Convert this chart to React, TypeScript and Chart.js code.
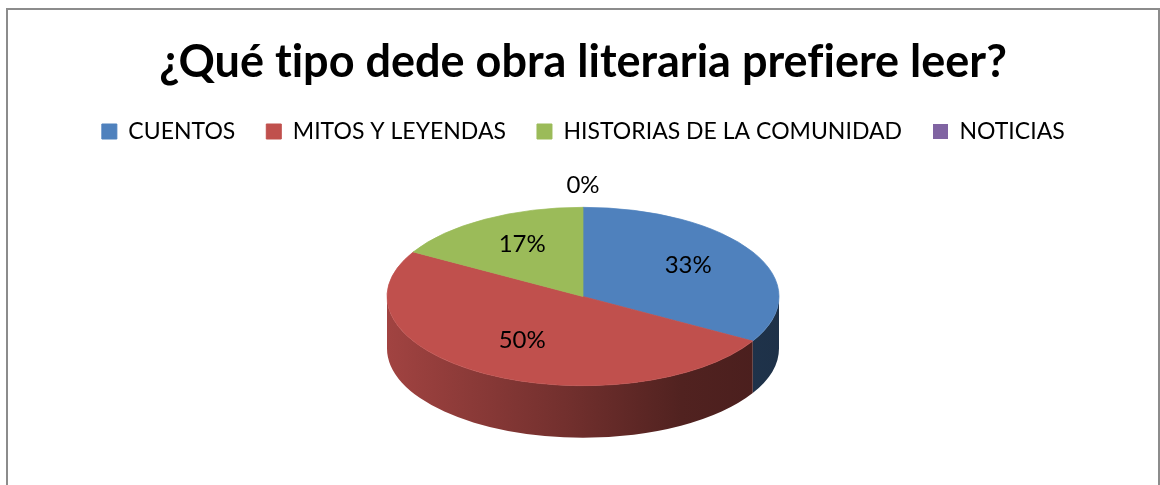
import React, { useEffect, useRef } from 'react';
import { Chart, registerables } from 'chart.js';

Chart.register(...registerables);

const TITLE = '¿Qué tipo dede obra literaria prefiere leer?';
const categories = ['CUENTOS', 'MITOS Y LEYENDAS', 'HISTORIAS DE LA COMUNIDAD', 'NOTICIAS'];
const values = [2, 3, 1, 0];
const colors = ['#4F81BD', '#C0504D', '#9BBB59', '#8064A2'];

const TILT = 0.455;
const DEPTH = 52;
const FONT = 'Lato, "Open Sans", sans-serif';

function shade(hex: string, f: number): string {
  const n = parseInt(hex.slice(1), 16);
  const r = Math.round(((n >> 16) & 255) * f);
  const g = Math.round(((n >> 8) & 255) * f);
  const b = Math.round((n & 255) * f);
  return `rgb(${r},${g},${b})`;
}

const noLigatures = {
  id: 'noLigatures',
  beforeDraw(chart: any) {
    try {
      (chart.ctx as any).letterSpacing = '0.01px';
    } catch (e) {}
  },
};

const pie3d = {
  id: 'pie3d',
  beforeDatasetsDraw(chart: any) {
    const arcs = chart.getDatasetMeta(0).data;
    if (!arcs.length) return;
    const { x: cx, y: cy, outerRadius: r } = arcs[0].getProps(['x', 'y', 'outerRadius'], true);
    const ctx = chart.ctx;
    ctx.save();
    ctx.translate(cx, cy);
    ctx.scale(1, TILT);
    ctx.translate(-cx, -cy);
    const dy = DEPTH / TILT;
    arcs.forEach((arc: any, i: number) => {
      const { startAngle, endAngle } = arc.getProps(['startAngle', 'endAngle'], true);
      const a1 = Math.max(startAngle, 0);
      const a2 = Math.min(endAngle, Math.PI);
      if (a2 <= a1) return;
      const base = colors[i];
      const g = ctx.createLinearGradient(cx - r, 0, cx + r, 0);
      g.addColorStop(0, shade(base, 0.84));
      g.addColorStop(0.45, shade(base, 0.6));
      g.addColorStop(0.75, shade(base, 0.42));
      g.addColorStop(1, shade(base, 0.38));
      ctx.beginPath();
      ctx.arc(cx, cy, r, a1, a2);
      ctx.arc(cx, cy + dy, r, a2, a1, true);
      ctx.closePath();
      ctx.fillStyle = g;
      ctx.fill();
    });
  },
  afterDatasetsDraw(chart: any) {
    const ctx = chart.ctx;
    ctx.restore();
    const arcs = chart.getDatasetMeta(0).data;
    const data = chart.data.datasets[0].data as number[];
    const total = data.reduce((a, b) => a + b, 0);
    ctx.save();
    ctx.font = `24px ${FONT}`;
    ctx.fillStyle = '#000';
    ctx.textAlign = 'center';
    ctx.textBaseline = 'middle';
    arcs.forEach((arc: any, i: number) => {
      const { x, y, startAngle, endAngle, outerRadius } = arc.getProps(
        ['x', 'y', 'startAngle', 'endAngle', 'outerRadius'],
        true
      );
      const mid = (startAngle + endAngle) / 2;
      const f = data[i] === 0 ? 1.2 : 0.62;
      const lx = x + Math.cos(mid) * outerRadius * f;
      const ly = y + Math.sin(mid) * outerRadius * f * TILT - 4;
      ctx.fillText(Math.round((data[i] / total) * 100) + '%', lx, ly);
    });
    ctx.restore();
  },
};

export default function App() {
  const ref = useRef<HTMLCanvasElement>(null);
  useEffect(() => {
    if (!ref.current) return;
    const chart = new Chart(ref.current, {
      type: 'pie',
      data: {
        labels: categories,
        datasets: [
          {
            data: values,
            backgroundColor: colors,
            borderColor: colors,
            borderWidth: values.map((v) => (v ? 1 : 0)),
            radius: 196,
            clip: false,
          } as any,
        ],
      },
      options: {
        responsive: false,
        devicePixelRatio: 1,
        animation: false,
        layout: { padding: { top: 0, bottom: 45, left: 0, right: 0 } },
        plugins: {
          title: {
            display: true,
            text: TITLE,
            color: '#000',
            font: { family: FONT, size: 45, weight: 'bold' },
            padding: { top: 25, bottom: 0 },
          },
          legend: {
            display: true,
            position: 'top',
            labels: {
              boxWidth: 15,
              boxHeight: 15,
              padding: 31,
              color: '#000',
              font: { family: FONT, size: 23 },
            },
          },
          tooltip: { enabled: false },
        },
      },
      plugins: [noLigatures, pie3d],
    });
    return () => chart.destroy();
  }, []);
  return (
    <div
      style={{
        position: 'absolute',
        left: 6,
        top: 8,
        width: 1154,
        height: 490,
        border: '2px solid #8c8c8c',
        boxSizing: 'border-box',
        background: '#fff',
      }}
    >
      <canvas ref={ref} width={1150} height={475} style={{ display: 'block', width: 1150, height: 475 }} />
    </div>
  );
}
